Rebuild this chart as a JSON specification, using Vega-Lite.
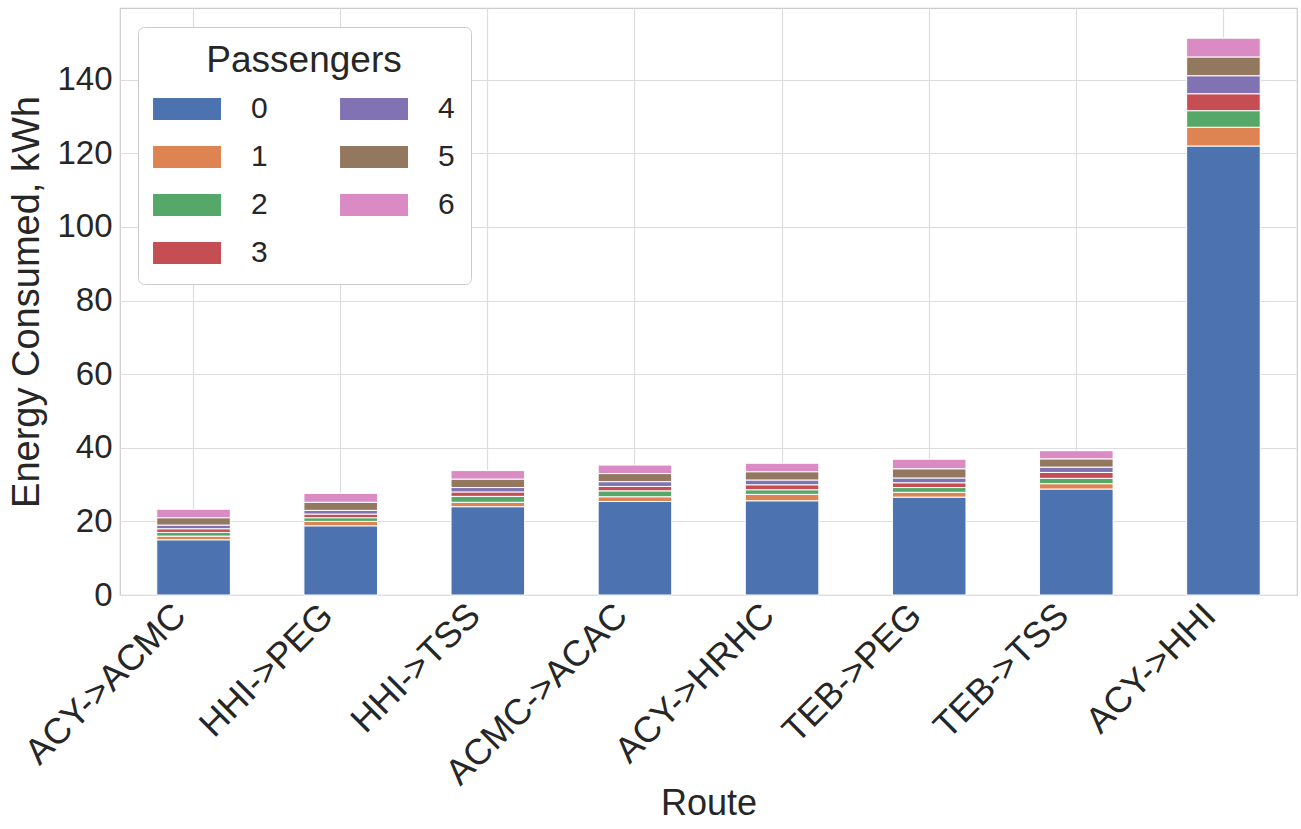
{
  "$schema": "https://vega.github.io/schema/vega-lite/v6.json",
  "width": 1177,
  "height": 587,
  "autosize": {"type": "none"},
  "padding": {"left": 120, "top": 8, "right": 4, "bottom": 234},
  "background": "white",
  "config": {
    "font": "Liberation Sans",
    "view": {"stroke": "#cccccc", "strokeWidth": 1.2},
    "axis": {"gridColor": "#dddddd", "gridWidth": 1.2, "domain": false, "ticks": false, "labelColor": "#262626", "titleColor": "#262626", "titleFontWeight": "normal"}
  },
  "data": {
    "values": [
      {"route": "ACY->ACMC", "passengers": "0", "energy": 15.0},
      {"route": "ACY->ACMC", "passengers": "1", "energy": 1.0},
      {"route": "ACY->ACMC", "passengers": "2", "energy": 1.0},
      {"route": "ACY->ACMC", "passengers": "3", "energy": 1.0},
      {"route": "ACY->ACMC", "passengers": "4", "energy": 1.0},
      {"route": "ACY->ACMC", "passengers": "5", "energy": 2.0},
      {"route": "ACY->ACMC", "passengers": "6", "energy": 2.3},
      {"route": "HHI->PEG", "passengers": "0", "energy": 18.8},
      {"route": "HHI->PEG", "passengers": "1", "energy": 1.2},
      {"route": "HHI->PEG", "passengers": "2", "energy": 1.0},
      {"route": "HHI->PEG", "passengers": "3", "energy": 1.0},
      {"route": "HHI->PEG", "passengers": "4", "energy": 1.0},
      {"route": "HHI->PEG", "passengers": "5", "energy": 2.2},
      {"route": "HHI->PEG", "passengers": "6", "energy": 2.4},
      {"route": "HHI->TSS", "passengers": "0", "energy": 24.0},
      {"route": "HHI->TSS", "passengers": "1", "energy": 1.2},
      {"route": "HHI->TSS", "passengers": "2", "energy": 1.6},
      {"route": "HHI->TSS", "passengers": "3", "energy": 1.2},
      {"route": "HHI->TSS", "passengers": "4", "energy": 1.2},
      {"route": "HHI->TSS", "passengers": "5", "energy": 2.3},
      {"route": "HHI->TSS", "passengers": "6", "energy": 2.3},
      {"route": "ACMC->ACAC", "passengers": "0", "energy": 25.4},
      {"route": "ACMC->ACAC", "passengers": "1", "energy": 1.3},
      {"route": "ACMC->ACAC", "passengers": "2", "energy": 1.6},
      {"route": "ACMC->ACAC", "passengers": "3", "energy": 1.2},
      {"route": "ACMC->ACAC", "passengers": "4", "energy": 1.3},
      {"route": "ACMC->ACAC", "passengers": "5", "energy": 2.2},
      {"route": "ACMC->ACAC", "passengers": "6", "energy": 2.3},
      {"route": "ACY->HRHC", "passengers": "0", "energy": 25.6},
      {"route": "ACY->HRHC", "passengers": "1", "energy": 1.75},
      {"route": "ACY->HRHC", "passengers": "2", "energy": 1.25},
      {"route": "ACY->HRHC", "passengers": "3", "energy": 1.35},
      {"route": "ACY->HRHC", "passengers": "4", "energy": 1.3},
      {"route": "ACY->HRHC", "passengers": "5", "energy": 2.25},
      {"route": "ACY->HRHC", "passengers": "6", "energy": 2.3},
      {"route": "TEB->PEG", "passengers": "0", "energy": 26.6},
      {"route": "TEB->PEG", "passengers": "1", "energy": 1.3},
      {"route": "TEB->PEG", "passengers": "2", "energy": 1.3},
      {"route": "TEB->PEG", "passengers": "3", "energy": 1.3},
      {"route": "TEB->PEG", "passengers": "4", "energy": 1.3},
      {"route": "TEB->PEG", "passengers": "5", "energy": 2.5},
      {"route": "TEB->PEG", "passengers": "6", "energy": 2.6},
      {"route": "TEB->TSS", "passengers": "0", "energy": 28.8},
      {"route": "TEB->TSS", "passengers": "1", "energy": 1.45},
      {"route": "TEB->TSS", "passengers": "2", "energy": 1.45},
      {"route": "TEB->TSS", "passengers": "3", "energy": 1.6},
      {"route": "TEB->TSS", "passengers": "4", "energy": 1.45},
      {"route": "TEB->TSS", "passengers": "5", "energy": 2.25},
      {"route": "TEB->TSS", "passengers": "6", "energy": 2.2},
      {"route": "ACY->HHI", "passengers": "0", "energy": 122.0},
      {"route": "ACY->HHI", "passengers": "1", "energy": 5.1},
      {"route": "ACY->HHI", "passengers": "2", "energy": 4.5},
      {"route": "ACY->HHI", "passengers": "3", "energy": 4.6},
      {"route": "ACY->HHI", "passengers": "4", "energy": 4.9},
      {"route": "ACY->HHI", "passengers": "5", "energy": 5.1},
      {"route": "ACY->HHI", "passengers": "6", "energy": 5.1}
    ]
  },
  "mark": {"type": "bar", "stroke": "white", "strokeWidth": 1},
  "encoding": {
    "x": {
      "field": "route",
      "type": "nominal",
      "sort": null,
      "scale": {"paddingInner": 0.5, "paddingOuter": 0.25},
      "axis": {
        "title": "Route",
        "titleFontSize": 36,
        "titlePadding": -5,
        "labelFontSize": 36,
        "labelAngle": -45,
        "labelAlign": "right",
        "labelBaseline": "bottom",
        "labelPadding": 28,
        "labelLimit": 0,
        "grid": true,
        "bandPosition": 0.5
      }
    },
    "y": {
      "field": "energy",
      "type": "quantitative",
      "stack": "zero",
      "scale": {"domain": [0, 159.5], "nice": false},
      "axis": {
        "title": "Energy Consumed, kWh",
        "titleFontSize": 38,
        "titlePadding": 10,
        "labelFontSize": 33,
        "labelPadding": 8,
        "values": [0, 20, 40, 60, 80, 100, 120, 140]
      }
    },
    "order": {"field": "passengers", "type": "ordinal", "sort": "ascending"},
    "color": {
      "field": "passengers",
      "type": "nominal",
      "scale": {
        "domain": ["0", "1", "2", "3", "4", "5", "6"],
        "range": ["#4C72B0", "#DD8452", "#55A868", "#C44E52", "#8172B3", "#937860", "#DA8BC3"]
      },
      "legend": {
        "title": "Passengers",
        "orient": "none",
        "legendX": 18,
        "legendY": 19,
        "columns": 2,
        "columnPadding": 72,
        "rowPadding": 18,
        "titleFontSize": 37,
        "titleFontWeight": "normal",
        "titleAnchor": "middle",
        "titleColor": "#262626",
        "titlePadding": 14,
        "titleLimit": 0,
        "labelFontSize": 30,
        "labelColor": "#262626",
        "labelOffset": 67,
        "symbolType": "M-1.45,-1H4.73V1H-1.45Z",
        "symbolSize": 484,
        "symbolStrokeWidth": 0,
        "symbolOpacity": 1,
        "padding": 16,
        "fillColor": "white",
        "strokeColor": "#cccccc",
        "cornerRadius": 6
      }
    }
  }
}
